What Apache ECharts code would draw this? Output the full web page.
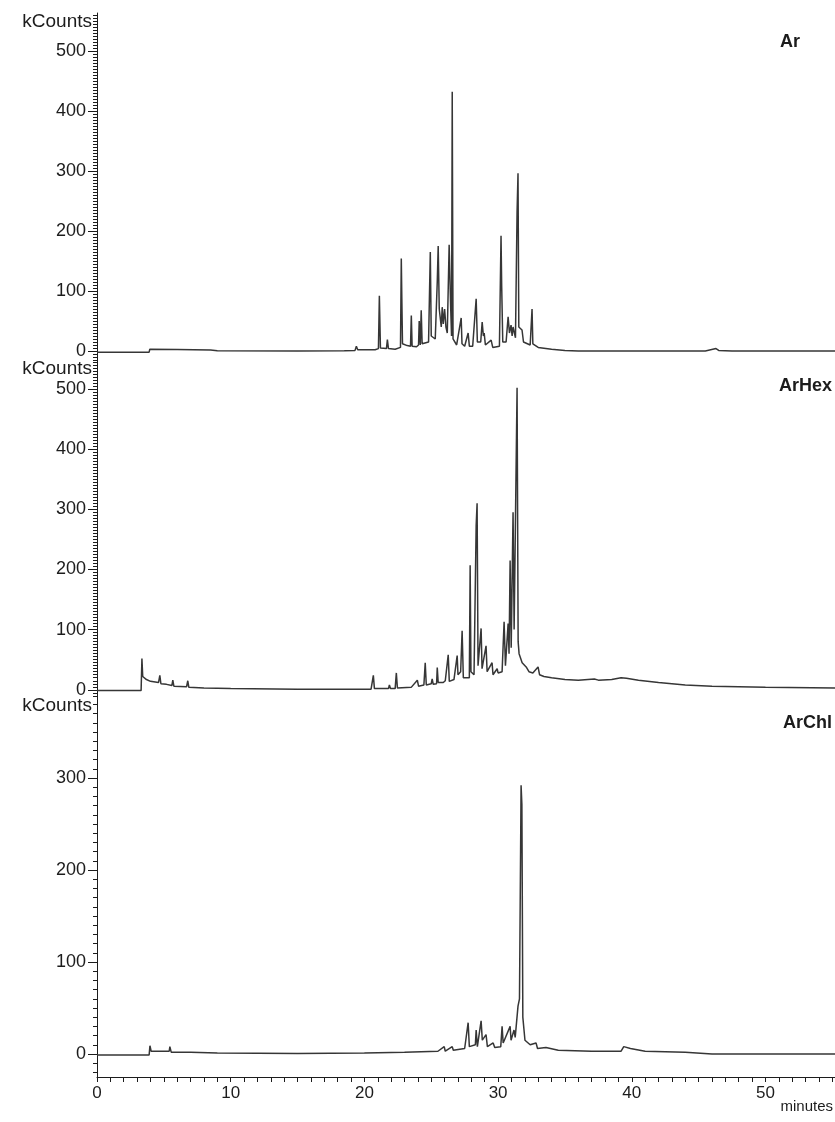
<!DOCTYPE html>
<html>
<head>
<meta charset="utf-8">
<script src="https://cdn.jsdelivr.net/npm/echarts@6/dist/echarts.min.js"></script>
<style>
html, body {margin: 0; padding: 0; background: #fff;}
#chart {width: 835px; height: 1122px;}
</style>
</head>
<body>
<div id="chart"></div>
<script>
//----------------------Data----------------------
// retention time (minutes) and signal (kCounts)
let ar_time = [0, 3.9, 3.95, 6, 8.5, 9, 15, 18.5, 19.3, 19.4, 19.5, 20.8, 21.05, 21.12, 21.2, 21.65, 21.72, 21.8,
    22.3, 22.7, 22.76, 22.8, 22.85, 23.2, 23.45, 23.51, 23.57, 23.9, 24.05, 24.1, 24.18, 24.25, 24.32,
    24.8, 24.93, 25.0, 25.3, 25.45, 25.52, 25.6, 25.75, 25.82, 25.9, 26.0, 26.1, 26.2, 26.34, 26.45,
    26.52, 26.57, 26.63, 26.9, 27.24, 27.3, 27.5, 27.76, 27.85, 28.1, 28.36, 28.45, 28.7, 28.81, 28.9,
    28.96, 29.05, 29.48, 29.6, 30.1, 30.22, 30.27, 30.35, 30.6, 30.75, 30.85, 30.97, 31.05, 31.12, 31.3,
    31.42, 31.49, 31.55, 31.79, 31.9, 32.4, 32.54, 32.6, 33.0, 34, 35, 36, 45.5, 46.3, 46.5, 47.5, 55.2];
let ar_counts = [-2, -2, 3, 2.5, 1.5, 0.5, 0, 0.5, 1, 8, 2, 2, 4, 92, 5, 4, 19, 4,
    3, 6, 154, 88, 12, 9, 8, 59, 8, 7, 10, 50, 10, 68, 12,
    15, 165, 25, 20, 115, 175, 70, 40, 73, 45, 70, 40, 30, 177, 75,
    25, 432, 20, 10, 55, 12, 8, 30, 8, 8, 87, 15, 15, 48, 25,
    30, 10, 18, 6, 8, 192, 107, 15, 15, 57, 30, 43, 25, 40, 22,
    232, 296, 40, 35, 15, 10, 70, 12, 6, 3, 1, 0, 0, 4, 1, 0, 0];

let arhex_time = [0, 3.3, 3.36, 3.42, 3.7, 4.0, 4.6, 4.7, 4.78, 5.2, 5.6, 5.67, 5.75, 6.7, 6.79, 6.87, 8, 10, 15,
    20.5, 20.67, 20.75, 21.8, 21.87, 21.95, 22.3, 22.39, 22.47, 23.5, 23.96, 24.05, 24.45, 24.55, 24.63,
    25.0, 25.07, 25.15, 25.4, 25.45, 25.52, 25.9, 26.05, 26.27, 26.35, 26.7, 26.94, 27.0, 27.2, 27.31,
    27.4, 27.85, 27.91, 27.97, 28.2, 28.36, 28.43, 28.5, 28.73, 28.8, 29.1, 29.18, 29.55, 29.62, 29.93,
    30.0, 30.3, 30.45, 30.55, 30.75, 30.82, 30.9, 30.98, 31.12, 31.2, 31.42, 31.5, 31.57, 31.8, 32.1,
    32.31, 32.6, 32.99, 33.1, 33.43, 34, 35, 36, 37.2, 37.5, 38.5, 39.2, 39.6, 40.5, 42, 44, 46, 50, 55.2];
let arhex_counts = [-1, -1, 52, 22, 17, 14, 12, 24, 10, 9, 7, 16, 6, 5, 15, 4, 3, 2, 1,
    1, 24, 2, 2, 8, 2, 2, 28, 3, 4, 16, 6, 8, 45, 8,
    10, 18, 9, 10, 37, 12, 12, 15, 58, 14, 17, 57, 25, 30, 98,
    20, 20, 207, 30, 25, 273, 310, 40, 102, 35, 73, 30, 45, 25, 35,
    28, 30, 113, 40, 110, 60, 215, 70, 295, 100, 502, 80, 60, 45, 38,
    30, 28, 38, 25, 22, 20, 17, 16, 18, 16, 17, 20, 19, 16, 12, 8, 6, 4, 3];

let archl_time = [0, 3.9, 3.96, 4.05, 5.4, 5.45, 5.55, 7, 9, 15, 20, 23, 25.5, 25.97, 26.05, 26.57, 26.65,
    27.5, 27.76, 27.85, 28.3, 28.36, 28.45, 28.73, 28.82, 29.1, 29.2, 29.63, 29.75, 30.2, 30.3, 30.38,
    30.9, 30.97, 31.19, 31.28, 31.49, 31.6, 31.72, 31.78, 31.85, 32.01, 32.4, 32.84, 32.95, 33.58,
    34.5, 37, 39.2, 39.4, 39.9, 41, 44, 46, 55.2];
let archl_counts = [-1, -1, 9, 3, 3, 8, 2, 2, 1, 0.5, 1, 2, 3, 8, 3, 8, 4,
    6, 34, 8, 10, 26, 8, 36, 15, 21, 8, 12, 7, 8, 30, 12,
    30, 15, 26, 18, 52, 60, 292, 271, 40, 15, 10, 12, 6, 7,
    4, 3, 3, 8, 6, 3, 2, 0, 0];

let trace_names = ["Ar", "ArHex", "ArChl"];
let x_labels = [0, 10, 20, 30, 40, 50];
let y_labels_top = [0, 100, 200, 300, 400, 500];
let y_labels_bottom = [0, 100, 200, 300];

//--------------------Location--------------------
let plot_left = 97;
let plot_width = 738;
let panel_top = [13, 360, 697];
let panel_height = [347, 337, 380];
let y_min = [-15, -12, -25];
let y_max = [563, 548, 388];
let x_max = 55.2;
let font_family = '"Liberation Sans", Arial, sans-serif';
let ink = "#1c1c1c";

function range_values(from, to, step) {
    let out = [];
    for (let v = from; v <= to + 1e-9; v += step) out.push(Math.round(v * 100) / 100);
    return out;
}
function to_pairs(times, counts) {
    return times.map(function (t, i) { return [t, counts[i]]; });
}

//----------------------Grid----------------------
let chromo_grid = panel_top.map(function (top, i) {
    return {left: plot_left, width: plot_width, top: top, height: panel_height[i], containLabel: false};
});

//----------------------Axis----------------------
let chromo_xAxis = [0, 1, 2].map(function (i) {
    let last = i === 2;
    return {
        gridIndex: i,
        type: 'value',
        min: 0,
        max: x_max,
        show: last,
        splitLine: {show: false},
        axisLine: {show: last, onZero: false, lineStyle: {color: ink, width: 1}},
        axisTick: {show: last, length: 5, customValues: range_values(0, 55, 1), lineStyle: {color: ink}},
        axisLabel: {
            show: last, customValues: x_labels, margin: 8,
            fontFamily: font_family, fontSize: 17, color: ink
        }
    };
});

let chromo_yAxis = [];
[0, 1, 2].forEach(function (i) {
    let labels = i === 2 ? y_labels_bottom : y_labels_top;
    let step = i === 2 ? 10 : 5;
    let first_tick = Math.ceil(y_min[i] / step) * step;
    // minor ticks, labels and the axis name
    chromo_yAxis.push({
        gridIndex: i,
        type: 'value',
        position: 'left',
        min: y_min[i],
        max: y_max[i],
        name: 'kCounts',
        nameLocation: 'end',
        nameGap: 1,
        nameTextStyle: {
            fontFamily: font_family, fontSize: 19, color: ink,
            align: 'right', verticalAlign: 'top', padding: [0, 5, 0, 0]
        },
        splitLine: {show: false},
        axisLine: {show: true, onZero: false, lineStyle: {color: ink, width: 1}},
        axisTick: {show: true, length: 4, customValues: range_values(first_tick, y_max[i], step), lineStyle: {color: ink}},
        axisLabel: {
            show: true, customValues: labels, margin: 11,
            fontFamily: font_family, fontSize: 18, color: ink
        }
    });
    // longer ticks at the labelled values
    chromo_yAxis.push({
        gridIndex: i,
        type: 'value',
        position: 'left',
        min: y_min[i],
        max: y_max[i],
        splitLine: {show: false},
        axisLine: {show: false},
        axisTick: {show: true, length: 9, customValues: labels, lineStyle: {color: ink}},
        axisLabel: {show: false}
    });
});

//---------------------Series---------------------
let trace_data = [
    to_pairs(ar_time, ar_counts),
    to_pairs(arhex_time, arhex_counts),
    to_pairs(archl_time, archl_counts)
];
let chromo_series = trace_data.map(function (d, i) {
    return {
        type: 'line',
        name: trace_names[i],
        xAxisIndex: i,
        yAxisIndex: i * 2,
        showSymbol: false,
        symbol: 'none',
        clip: true,
        lineStyle: {color: '#363636', width: 1.5},
        data: d
    };
});

//---------------------Texts----------------------
let trace_label_pos = [[800, 42], [832, 386], [832, 723]];
let chromo_graphic = trace_names.map(function (name, i) {
    return {
        type: 'text',
        x: trace_label_pos[i][0],
        y: trace_label_pos[i][1],
        style: {
            text: name, align: 'right', verticalAlign: 'middle',
            font: 'bold 18px ' + font_family, fill: ink
        }
    };
});
chromo_graphic.push({
    type: 'text', x: 833, y: 1107,
    style: {text: 'minutes', align: 'right', verticalAlign: 'middle', font: '15px ' + font_family, fill: ink}
});

//------------------Generate Graph------------------
let chromo_chart = echarts.init(document.getElementById("chart"));
chromo_chart.setOption({
    animation: false,
    backgroundColor: '#ffffff',
    grid: chromo_grid,
    xAxis: chromo_xAxis,
    yAxis: chromo_yAxis,
    series: chromo_series,
    graphic: chromo_graphic
});
</script>
</body>
</html>
